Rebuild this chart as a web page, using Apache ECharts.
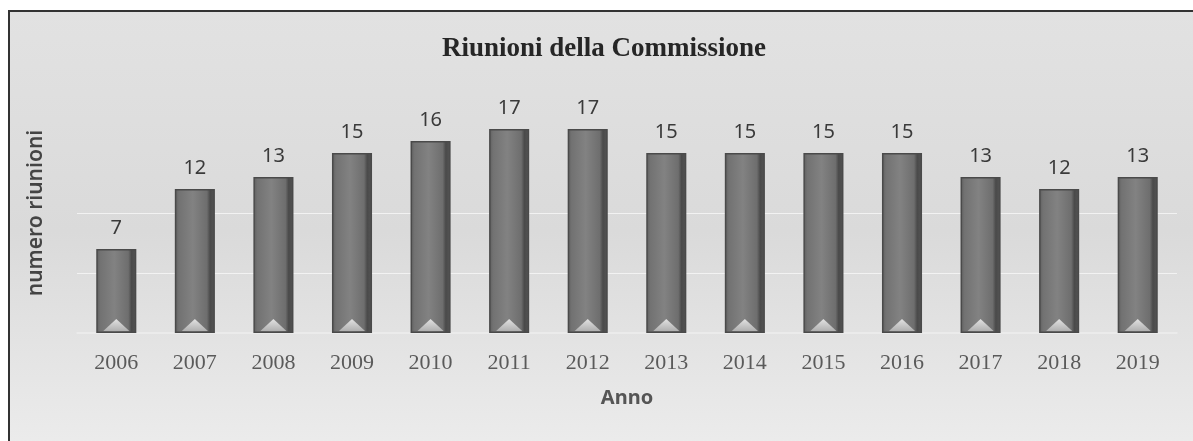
<!DOCTYPE html>
<html>
<head>
<meta charset="utf-8">
<script src="https://cdn.jsdelivr.net/npm/echarts@6/dist/echarts.min.js"></script>
<style>
  html, body { margin: 0; padding: 0; background: #ffffff; }
  #chart { width: 1193px; height: 441px; }
</style>
</head>
<body>
<div id="chart"></div>
<script>
// Meetings held by the Commission, per year
const years = ['2006', '2007', '2008', '2009', '2010', '2011', '2012',
               '2013', '2014', '2015', '2016', '2017', '2018', '2019'];
const meetings = [7, 12, 13, 15, 16, 17, 17, 15, 15, 15, 15, 13, 12, 13];
const guideLevels = [5, 10];

const chart = echarts.init(document.getElementById('chart'), null, { renderer: 'canvas' });

const barFill = new echarts.graphic.LinearGradient(0, 0, 1, 0, [
  { offset: 0, color: '#5e5e5e' },
  { offset: 0.1, color: '#727272' },
  { offset: 0.45, color: '#828282' },
  { offset: 0.8, color: '#6e6e6e' },
  { offset: 0.88, color: '#4a4a4a' },
  { offset: 1, color: '#555555' }
]);

const tipFill = new echarts.graphic.LinearGradient(0, 0, 0, 1, [
  { offset: 0, color: '#e2e2e2' },
  { offset: 1, color: '#b0b0b0' }
]);

chart.setOption({
  animation: false,
  graphic: [
    {
      type: 'rect',
      silent: true,
      z: -10,
      shape: { x: 9, y: 11, width: 1200, height: 440 },
      style: {
        fill: new echarts.graphic.LinearGradient(0, 0, 0, 1, [
          { offset: 0, color: '#e2e2e2' },
          { offset: 0.5, color: '#dadada' },
          { offset: 1, color: '#ececec' }
        ]),
        stroke: '#333333',
        lineWidth: 2
      }
    }
  ],
  title: {
    text: 'Riunioni della Commissione',
    left: 599,
    top: 31,
    textAlign: 'center',
    textStyle: {
      fontFamily: 'Liberation Serif',
      fontWeight: 'bold',
      fontSize: 27,
      color: '#262626'
    }
  },
  grid: { left: 77, right: 16, top: 93, bottom: 108, containLabel: false },
  xAxis: {
    type: 'category',
    data: years,
    name: 'Anno',
    nameLocation: 'middle',
    nameGap: 55,
    nameTextStyle: {
      fontFamily: 'Noto Sans',
      fontWeight: 'bold',
      fontSize: 20,
      color: '#555555'
    },
    axisLine: { lineStyle: { color: '#eeeeee', width: 1.5 } },
    axisTick: { show: false },
    axisLabel: {
      margin: 19,
      fontFamily: 'Liberation Serif',
      fontSize: 22,
      color: '#5a5a5a'
    }
  },
  yAxis: {
    type: 'value',
    min: 0,
    max: 20,
    interval: 5,
    name: 'numero riunioni',
    nameLocation: 'middle',
    nameGap: 30,
    nameRotate: 90,
    nameTextStyle: {
      fontFamily: 'Noto Sans',
      fontWeight: 600,
      fontSize: 21,
      color: '#444444'
    },
    axisLabel: { show: false },
    axisLine: { show: false },
    axisTick: { show: false },
    splitLine: { show: false }
  },
  series: [
    {
      type: 'bar',
      data: meetings,
      barWidth: '51%',
      barGap: '-100%',
      itemStyle: {
        color: barFill,
        borderColor: '#4a4a4a',
        borderWidth: 1.5
      },
      label: {
        show: true,
        position: 'top',
        distance: 11,
        fontFamily: 'Noto Sans',
        fontSize: 20,
        color: '#3a3a3a'
      },
      markLine: {
        silent: true,
        symbol: 'none',
        label: { show: false },
        z: 1,
        lineStyle: { color: 'rgba(248,248,248,0.8)', type: 'solid', width: 1 },
        data: guideLevels.map(v => ({ yAxis: v }))
      }
    },
    {
      type: 'pictorialBar',
      data: meetings,
      barWidth: '51%',
      barGap: '-100%',
      symbol: 'triangle',
      symbolSize: [26, 12],
      symbolPosition: 'start',
      symbolOffset: [0, -2],
      z: 3,
      silent: true,
      itemStyle: { color: tipFill }
    }
  ]
});
</script>
</body>
</html>
